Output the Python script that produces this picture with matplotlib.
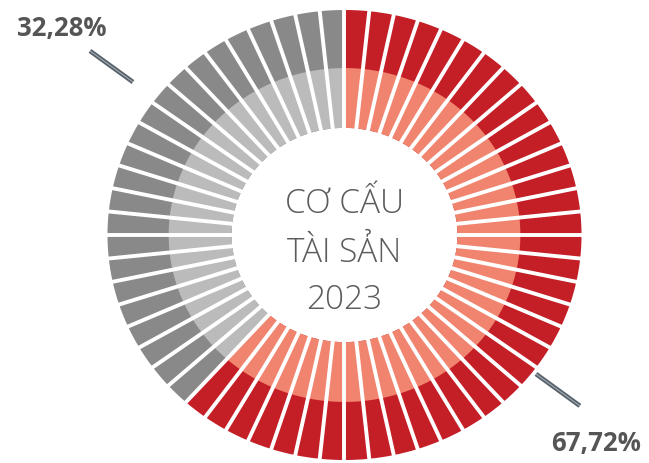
import numpy as np
import matplotlib
matplotlib.use("Agg")
import matplotlib.pyplot as plt

# ---- data ----
categories = ["Phần đỏ", "Phần xám"]
shares_pct = [67.72, 32.28]
share_labels = ["67,72%", "32,28%"]
n_segments = 60
segments_per_category = [37, 23]          # as drawn in the picture
outer_colors = ["#C41E27", "#898989"]
inner_colors = ["#F0846F", "#BBBBBB"]
center_lines = ["CƠ CẤU", "TÀI SẢN", "2023"]

fig = plt.figure(figsize=(6.49, 4.64), dpi=100)
ax = fig.add_axes([0, 0, 1, 1])

seg_sizes = np.ones(n_segments)
outer_seg_colors = []
inner_seg_colors = []
for cnt, oc, ic in zip(segments_per_category, outer_colors, inner_colors):
    outer_seg_colors += [oc] * cnt
    inner_seg_colors += [ic] * cnt

R_OUT, R_MID, R_HOLE = 1.0, 0.742, 0.476
ax.pie(seg_sizes, colors=outer_seg_colors, radius=R_OUT, startangle=90,
       counterclock=False, wedgeprops=dict(width=R_OUT - R_HOLE, linewidth=0))
ax.pie(seg_sizes, colors=inner_seg_colors, radius=R_MID, startangle=90,
       counterclock=False, wedgeprops=dict(width=R_MID - R_HOLE, linewidth=0))

# white radial separators
for k in range(n_segments):
    a = np.deg2rad(90 - k * 360.0 / n_segments)
    ax.plot([0.44 * np.cos(a), 1.03 * np.cos(a)], [0.44 * np.sin(a), 1.03 * np.sin(a)],
            color="white", lw=2.8, solid_capstyle="butt", zorder=5)

ax.set_aspect("auto")
ax.set_xlim((0 - 344.5) / 237, (649 - 344.5) / 237)
ax.set_ylim((236 - 464) / 225, 236 / 225)
ax.axis("off")

# leader lines
def leader(ang_cw, r0, r1):
    a = np.deg2rad(90 - ang_cw)
    xs = [r0 * np.cos(a), r1 * np.cos(a)]
    ys = [r0 * np.sin(a), r1 * np.sin(a)]
    ax.plot(xs, ys, color="#56606A", lw=3.3, solid_capstyle="butt", zorder=6)
    ax.plot(xs, ys, color="#A3ABB1", lw=0.8, solid_capstyle="butt", zorder=7)

leader(127.4, 1.017, 1.25)
leader(307.3, 1.122, 1.35)

lab_font = dict(family=["Open Sans", "DejaVu Sans"], fontweight="bold",
                color="#555555", fontsize=18.5)
ax.text((596 - 344.5) / 237, (236 - 444) / 225, share_labels[0],
        ha="center", va="center", **lab_font)
ax.text((62 - 344.5) / 237, (236 - 29) / 225, share_labels[1],
        ha="center", va="center", **lab_font)

ctr_font = dict(family=["Open Sans", "DejaVu Sans"], fontweight="light",
                color="#5C5C5C", fontsize=24)
for txt, base in zip(center_lines, [213, 262, 309]):
    ax.text(0, (236 - base) / 225, txt, ha="center", va="baseline", **ctr_font)

fig.savefig("out.png", dpi=100)
